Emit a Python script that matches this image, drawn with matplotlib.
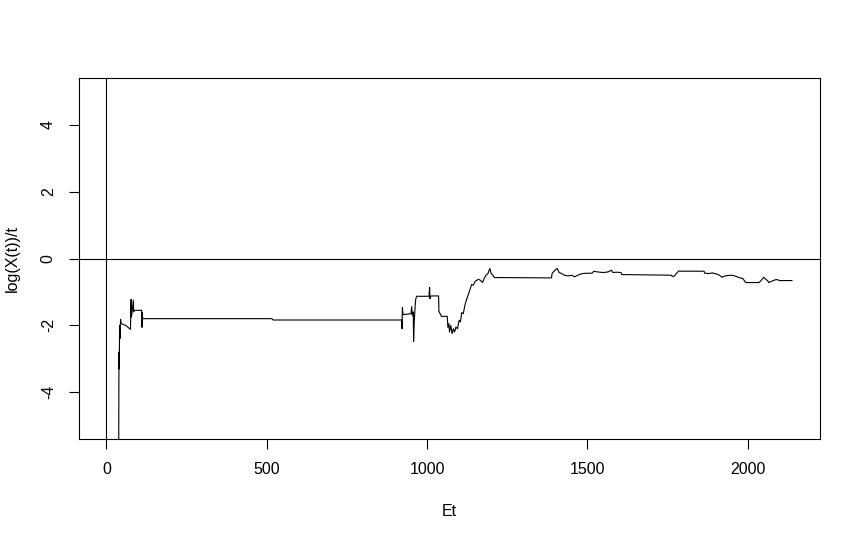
import matplotlib
matplotlib.use("Agg")
import matplotlib.pyplot as plt

plt.rcParams['font.family'] = ['Liberation Sans', 'DejaVu Sans']

# values (Et vs log(X(t))/t)
et = [38, 39, 40, 41, 42, 44, 46, 60, 75, 76, 77, 78, 80, 84, 85, 86, 110, 111, 112, 113,
      516, 520, 921, 922, 923, 925, 950, 952, 954, 957, 958, 960, 963, 965, 968, 1006, 1008,
      1009, 1012, 1036, 1037, 1045, 1063, 1065, 1068, 1070, 1074, 1078, 1082, 1086, 1090,
      1095, 1100, 1104, 1108, 1113, 1118, 1123, 1128, 1133, 1139, 1144, 1150, 1154, 1160,
      1166, 1173, 1178, 1184, 1190, 1193, 1196, 1200, 1205, 1210, 1388, 1390, 1396, 1401,
      1406, 1412, 1420, 1428, 1440, 1452, 1460, 1470, 1475, 1485, 1500, 1515, 1520, 1530,
      1550, 1565, 1575, 1580, 1590, 1605, 1607, 1761, 1766, 1772, 1780, 1786, 1792, 1864,
      1866, 1880, 1890, 1905, 1912, 1920, 1930, 1945, 1957, 1970, 1985, 1994, 2035, 2040,
      2050, 2056, 2062, 2066, 2075, 2085, 2091, 2100, 2138]
logx = [-7.0, -2.8, -3.3, -2.0, -2.4, -1.82, -1.95, -2.0, -2.12, -1.45, -1.22, -1.75, -1.6,
        -1.25, -1.6, -1.55, -1.55, -2.06, -1.62, -1.8,
        -1.8, -1.84, -1.84, -2.1, -1.47, -1.68, -1.65, -1.44, -1.7, -1.6, -2.48, -1.9, -1.4,
        -1.2, -1.13, -1.13, -0.87, -1.2, -1.12, -1.12, -1.58, -1.73, -1.73, -2.06, -1.95,
        -2.2, -2.0, -2.25, -2.1, -2.2, -2.05, -2.1, -1.85, -1.9, -1.62, -1.65, -1.4, -1.23,
        -1.1, -0.95, -0.78, -0.8, -0.68, -0.66, -0.62, -0.65, -0.72, -0.6, -0.5, -0.45,
        -0.36, -0.3, -0.45, -0.5, -0.57, -0.58, -0.45, -0.38, -0.33, -0.3, -0.42, -0.45,
        -0.5, -0.52, -0.5, -0.55, -0.5, -0.48, -0.45, -0.44, -0.44, -0.38, -0.4, -0.42,
        -0.4, -0.35, -0.42, -0.41, -0.42, -0.48, -0.5, -0.54, -0.52, -0.42, -0.37, -0.38,
        -0.38, -0.44, -0.45, -0.43, -0.47, -0.5, -0.56, -0.52, -0.5, -0.51, -0.56, -0.6,
        -0.72, -0.72, -0.68, -0.56, -0.62, -0.66, -0.72, -0.68, -0.64, -0.63, -0.66, -0.66]

xticks = [0, 500, 1000, 1500, 2000]
yticks = [-4, -2, 0, 2, 4]

fig = plt.figure(figsize=(8.61, 5.38), dpi=100)
ax = fig.add_axes([79 / 861, 1 - 439 / 538, 741 / 861, 361 / 538])

ax.plot(et, logx, color='black', linewidth=0.8)
ax.axhline(0, color='black', linewidth=0.8)
ax.axvline(0, color='black', linewidth=0.8)

ax.set_xlim(-85.6, 2225.6)
ax.set_ylim(-5.4, 5.4)
ax.set_xticks(xticks)
ax.set_yticks(yticks)
ax.set_yticklabels([str(v) for v in yticks], rotation=90, va='center')
ax.tick_params(direction='out', length=7.2, width=0.8, pad=9.5, labelsize=11.5)
for s in ax.spines.values():
    s.set_linewidth(0.8)

ax.set_xlabel('Et', fontsize=11.5, labelpad=19)
ax.set_ylabel('log(X(t))/t', fontsize=11.5, labelpad=15)

fig.savefig('out.png', dpi=100)
